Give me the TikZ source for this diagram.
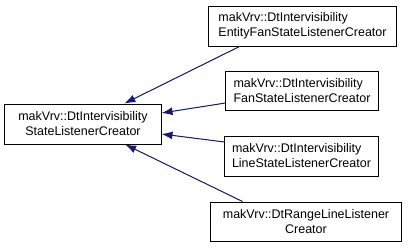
\documentclass[tikz,border=0pt]{standalone}
\usepackage{fontspec}
\setmainfont{Liberation Sans}
\usetikzlibrary{arrows.meta, positioning}
\usepackage{xcolor}
\definecolor{edgeblue}{RGB}{25,25,112}

\begin{document}
\begin{tikzpicture}[
    x=1bp,
    y=-1bp,
    >=Latex,
    block/.style={rectangle, draw, align=center, minimum height=40bp, inner sep=0pt, line width=1bp, font=\fontsize{12.5bp}{15bp}\selectfont},
    leftblock/.style={block, align=left},
    line/.style={-{Latex[length=11bp, width=8bp]}, draw=edgeblue, fill=edgeblue, line width=1bp}
]
\useasboundingbox (0,0) rectangle (412,248);
\node[block, minimum width=156bp] (base) at (83,124) {makVrv::DtIntervisibility\\StateListenerCreator};
\node[leftblock, minimum width=187bp] (entityfan) at (302.5,26) {makVrv::DtIntervisibility\\EntityFanStateListenerCreator};
\node[leftblock, minimum width=152bp, minimum height=39bp] (fan) at (302,90.5) {makVrv::DtIntervisibility\\FanStateListenerCreator};
\node[leftblock, minimum width=153bp] (linestate) at (301.5,156) {makVrv::DtIntervisibility\\LineStateListenerCreator};
\node[block, minimum width=190bp, minimum height=39bp] (rangeline) at (306,221.5) {makVrv::DtRangeLineListener\\Creator};

\draw[line] ([xshift=31bp]entityfan.south west) -- (base);
\draw[line] ([yshift=-12.5bp]fan.west) -- ([yshift=11bp]base.east);
\draw[line] ([yshift=14bp]linestate.west) -- ([yshift=-10bp]base.east);
\draw[line] ([xshift=32bp]rangeline.north west) -- (base);
\end{tikzpicture}
\end{document}
